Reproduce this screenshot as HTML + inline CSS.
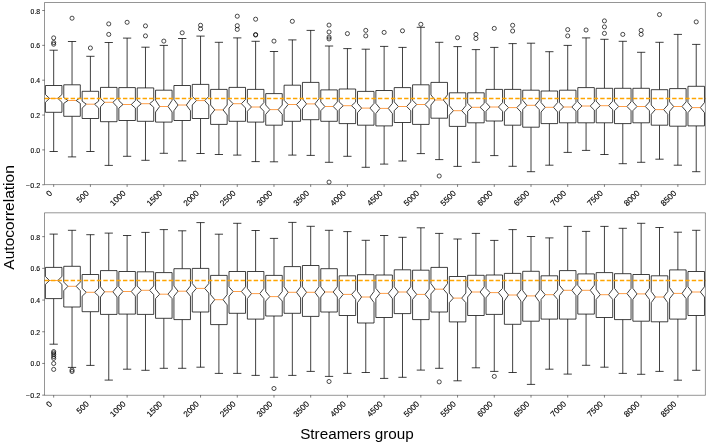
<!DOCTYPE html>
<html><head><meta charset="utf-8"><style>
html,body{margin:0;padding:0;background:#fff;}
body{width:708px;height:444px;overflow:hidden;}
svg{display:block;will-change:transform;}
.tx{will-change:transform;}
.k{fill:none;stroke:#000;stroke-width:0.75;}
.b{fill:#fff;stroke:#000;stroke-width:0.75;stroke-linejoin:miter;}
.m{fill:none;stroke:#ff7f0e;stroke-width:0.75;}
.o{fill:none;stroke:#000;stroke-width:0.7;}
.d{fill:none;stroke:#ffa500;stroke-width:1.4;stroke-dasharray:4.4 2.138;}
.sp{fill:none;stroke:#000;stroke-width:0.42;}
.t{fill:none;stroke:#000;stroke-width:0.5;}
.tl{font-family:"Liberation Sans",sans-serif;font-size:6.7px;fill:#000;stroke:#000;stroke-width:0.1px;}
.xl{font-family:"Liberation Sans",sans-serif;font-size:8.2px;fill:#000;stroke:#000;stroke-width:0.14px;}
.al{font-family:"Liberation Sans",sans-serif;font-size:14px;fill:#000;}
</style></head><body>
<svg width="708" height="444" viewBox="0 0 708 444">
<rect width="708" height="444" fill="#fff"/>
<path d="M53.68 112.3V151.5M53.68 85.5V50.2M49.55 151.5H57.81M49.55 50.2H57.81" class="k"/>
<path d="M45.42 112.3 L61.94 112.3 L61.94 102.3 L57.81 98.4 L61.94 94.5 L61.94 85.5 L45.42 85.5 L45.42 94.5 L49.55 98.4 L45.42 102.3Z" class="b"/>
<path d="M49.55 98.4H57.81" class="m"/>
<path d="M72.04 116.3V156.9M72.04 84.8V41.5M67.91 156.9H76.17M67.91 41.5H76.17" class="k"/>
<path d="M63.78 116.3 L80.3 116.3 L80.3 103.4 L76.17 100.5 L80.3 97.7 L80.3 84.8 L63.78 84.8 L63.78 97.7 L67.91 100.5 L63.78 103.4Z" class="b"/>
<path d="M67.91 100.5H76.17" class="m"/>
<path d="M90.4 118.5V151.5M90.4 91.3V56.3M86.27 151.5H94.53M86.27 56.3H94.53" class="k"/>
<path d="M82.13 118.5 L98.66 118.5 L98.66 108.1 L94.53 104.2 L98.66 101.1 L98.66 91.3 L82.13 91.3 L82.13 101.1 L86.27 104.2 L82.13 108.1Z" class="b"/>
<path d="M86.27 104.2H94.53" class="m"/>
<path d="M108.75 121.7V165.4M108.75 87.4V42.5M104.62 165.4H112.88M104.62 42.5H112.88" class="k"/>
<path d="M100.49 121.7 L117.02 121.7 L117.02 106.8 L112.88 102.3 L117.02 98.4 L117.02 87.4 L100.49 87.4 L100.49 98.4 L104.62 102.3 L100.49 106.8Z" class="b"/>
<path d="M104.62 102.3H112.88" class="m"/>
<path d="M127.11 120.5V156.3M127.11 87.6V38.1M122.98 156.3H131.24M122.98 38.1H131.24" class="k"/>
<path d="M118.85 120.5 L135.37 120.5 L135.37 108.1 L131.24 104.5 L135.37 100.6 L135.37 87.6 L118.85 87.6 L118.85 100.6 L122.98 104.5 L118.85 108.1Z" class="b"/>
<path d="M122.98 104.5H131.24" class="m"/>
<path d="M145.47 121.3V160.3M145.47 87.9V47.2M141.34 160.3H149.6M141.34 47.2H149.6" class="k"/>
<path d="M137.21 121.3 L153.73 121.3 L153.73 107.3 L149.6 103.7 L153.73 100.3 L153.73 87.9 L137.21 87.9 L137.21 100.3 L141.34 103.7 L137.21 107.3Z" class="b"/>
<path d="M141.34 103.7H149.6" class="m"/>
<path d="M163.83 122.1V153.3M163.83 90.2V45.4M159.7 153.3H167.96M159.7 45.4H167.96" class="k"/>
<path d="M155.57 122.1 L172.09 122.1 L172.09 112 L167.96 106.5 L172.09 100.3 L172.09 90.2 L155.57 90.2 L155.57 100.3 L159.7 106.5 L155.57 112Z" class="b"/>
<path d="M159.7 106.5H167.96" class="m"/>
<path d="M182.19 120.5V160.9M182.19 85.5V38.5M178.06 160.9H186.32M178.06 38.5H186.32" class="k"/>
<path d="M173.93 120.5 L190.45 120.5 L190.45 110.7 L186.32 105 L190.45 99.5 L190.45 85.5 L173.93 85.5 L173.93 99.5 L178.06 105 L173.93 110.7Z" class="b"/>
<path d="M178.06 105H186.32" class="m"/>
<path d="M200.55 118.5V153.5M200.55 84.4V36.1M196.42 153.5H204.68M196.42 36.1H204.68" class="k"/>
<path d="M192.28 118.5 L208.81 118.5 L208.81 105 L204.68 100.6 L208.81 96.4 L208.81 84.4 L192.28 84.4 L192.28 96.4 L196.42 100.6 L192.28 105Z" class="b"/>
<path d="M196.42 100.6H204.68" class="m"/>
<path d="M218.9 124.4V154.5M218.9 89.4V42.3M214.77 154.5H223.03M214.77 42.3H223.03" class="k"/>
<path d="M210.64 124.4 L227.17 124.4 L227.17 115 L223.03 109.9 L227.17 105 L227.17 89.4 L210.64 89.4 L210.64 105 L214.77 109.9 L210.64 115Z" class="b"/>
<path d="M214.77 109.9H223.03" class="m"/>
<path d="M237.26 121.3V155.1M237.26 87.4V37.9M233.13 155.1H241.39M233.13 37.9H241.39" class="k"/>
<path d="M229 121.3 L245.52 121.3 L245.52 108 L241.39 103.7 L245.52 99.5 L245.52 87.4 L229 87.4 L229 99.5 L233.13 103.7 L229 108Z" class="b"/>
<path d="M233.13 103.7H241.39" class="m"/>
<path d="M255.62 122.1V161.6M255.62 89.4V41.3M251.49 161.6H259.75M251.49 41.3H259.75" class="k"/>
<path d="M247.36 122.1 L263.88 122.1 L263.88 111.2 L259.75 107 L263.88 102.6 L263.88 89.4 L247.36 89.4 L247.36 102.6 L251.49 107 L247.36 111.2Z" class="b"/>
<path d="M251.49 107H259.75" class="m"/>
<path d="M273.98 125.2V161.8M273.98 93.6V51.5M269.85 161.8H278.11M269.85 51.5H278.11" class="k"/>
<path d="M265.72 125.2 L282.24 125.2 L282.24 114.3 L278.11 109.6 L282.24 105 L282.24 93.6 L265.72 93.6 L265.72 105 L269.85 109.6 L265.72 114.3Z" class="b"/>
<path d="M269.85 109.6H278.11" class="m"/>
<path d="M292.34 121.3V155.1M292.34 85.2V39.9M288.21 155.1H296.47M288.21 39.9H296.47" class="k"/>
<path d="M284.08 121.3 L300.6 121.3 L300.6 109.6 L296.47 104.5 L300.6 100.3 L300.6 85.2 L284.08 85.2 L284.08 100.3 L288.21 104.5 L284.08 109.6Z" class="b"/>
<path d="M288.21 104.5H296.47" class="m"/>
<path d="M310.7 119.7V155.4M310.7 82.4V30.4M306.57 155.4H314.83M306.57 30.4H314.83" class="k"/>
<path d="M302.43 119.7 L318.96 119.7 L318.96 108.8 L314.83 103.9 L318.96 98.7 L318.96 82.4 L302.43 82.4 L302.43 98.7 L306.57 103.9 L302.43 108.8Z" class="b"/>
<path d="M306.57 103.9H314.83" class="m"/>
<path d="M329.05 121.3V162.3M329.05 89.9V46M324.92 162.3H333.18M324.92 46H333.18" class="k"/>
<path d="M320.79 121.3 L337.32 121.3 L337.32 110.7 L333.18 106.5 L337.32 101.9 L337.32 89.9 L320.79 89.9 L320.79 101.9 L324.92 106.5 L320.79 110.7Z" class="b"/>
<path d="M324.92 106.5H333.18" class="m"/>
<path d="M347.41 123.6V156.3M347.41 89V48.6M343.28 156.3H351.54M343.28 48.6H351.54" class="k"/>
<path d="M339.15 123.6 L355.67 123.6 L355.67 109.6 L351.54 105.7 L355.67 101.9 L355.67 89 L339.15 89 L339.15 101.9 L343.28 105.7 L339.15 109.6Z" class="b"/>
<path d="M343.28 105.7H351.54" class="m"/>
<path d="M365.77 125.2V167.3M365.77 91.4V49.2M361.64 167.3H369.9M361.64 49.2H369.9" class="k"/>
<path d="M357.51 125.2 L374.03 125.2 L374.03 112.7 L369.9 108.1 L374.03 103.4 L374.03 91.4 L357.51 91.4 L357.51 103.4 L361.64 108.1 L357.51 112.7Z" class="b"/>
<path d="M361.64 108.1H369.9" class="m"/>
<path d="M384.13 125.9V164.1M384.13 90.5V46.4M380 164.1H388.26M380 46.4H388.26" class="k"/>
<path d="M375.87 125.9 L392.39 125.9 L392.39 113.5 L388.26 108.4 L392.39 103.4 L392.39 90.5 L375.87 90.5 L375.87 103.4 L380 108.4 L375.87 113.5Z" class="b"/>
<path d="M380 108.4H388.26" class="m"/>
<path d="M402.49 122.5V161M402.49 87.6V47.4M398.36 161H406.62M398.36 47.4H406.62" class="k"/>
<path d="M394.23 122.5 L410.75 122.5 L410.75 110.7 L406.62 106.5 L410.75 101.9 L410.75 87.6 L394.23 87.6 L394.23 101.9 L398.36 106.5 L394.23 110.7Z" class="b"/>
<path d="M398.36 106.5H406.62" class="m"/>
<path d="M420.85 124.4V153.6M420.85 84.8V27.3M416.72 153.6H424.98M416.72 27.3H424.98" class="k"/>
<path d="M412.58 124.4 L429.11 124.4 L429.11 108.8 L424.98 104.5 L429.11 100.3 L429.11 84.8 L412.58 84.8 L412.58 100.3 L416.72 104.5 L412.58 108.8Z" class="b"/>
<path d="M416.72 104.5H424.98" class="m"/>
<path d="M439.2 118.2V159.6M439.2 82.4V42.3M435.07 159.6H443.33M435.07 42.3H443.33" class="k"/>
<path d="M430.94 118.2 L447.47 118.2 L447.47 105 L443.33 100 L447.47 94.9 L447.47 82.4 L430.94 82.4 L430.94 94.9 L435.07 100 L430.94 105Z" class="b"/>
<path d="M435.07 100H443.33" class="m"/>
<path d="M457.56 126.4V166.4M457.56 92.8V46.6M453.43 166.4H461.69M453.43 46.6H461.69" class="k"/>
<path d="M449.3 126.4 L465.82 126.4 L465.82 115.1 L461.69 110.7 L465.82 105.7 L465.82 92.8 L449.3 92.8 L449.3 105.7 L453.43 110.7 L449.3 115.1Z" class="b"/>
<path d="M453.43 110.7H461.69" class="m"/>
<path d="M475.92 122.8V162.3M475.92 92.8V49.6M471.79 162.3H480.05M471.79 49.6H480.05" class="k"/>
<path d="M467.66 122.8 L484.18 122.8 L484.18 111.2 L480.05 107.3 L484.18 103.4 L484.18 92.8 L467.66 92.8 L467.66 103.4 L471.79 107.3 L467.66 111.2Z" class="b"/>
<path d="M471.79 107.3H480.05" class="m"/>
<path d="M494.28 121V155.6M494.28 89.4V47.4M490.15 155.6H498.41M490.15 47.4H498.41" class="k"/>
<path d="M486.02 121 L502.54 121 L502.54 111.2 L498.41 107 L502.54 102.6 L502.54 89.4 L486.02 89.4 L486.02 102.6 L490.15 107 L486.02 111.2Z" class="b"/>
<path d="M490.15 107H498.41" class="m"/>
<path d="M512.64 125.2V166.3M512.64 89.4V43.6M508.51 166.3H516.77M508.51 43.6H516.77" class="k"/>
<path d="M504.38 125.2 L520.9 125.2 L520.9 112 L516.77 107.6 L520.9 103.4 L520.9 89.4 L504.38 89.4 L504.38 103.4 L508.51 107.6 L504.38 112Z" class="b"/>
<path d="M508.51 107.6H516.77" class="m"/>
<path d="M531 127.2V171.7M531 90.2V43.2M526.87 171.7H535.13M526.87 43.2H535.13" class="k"/>
<path d="M522.73 127.2 L539.26 127.2 L539.26 109.6 L535.13 105.3 L539.26 100.3 L539.26 90.2 L522.73 90.2 L522.73 100.3 L526.87 105.3 L522.73 109.6Z" class="b"/>
<path d="M526.87 105.3H535.13" class="m"/>
<path d="M549.35 123.6V165.2M549.35 91V51.7M545.22 165.2H553.48M545.22 51.7H553.48" class="k"/>
<path d="M541.09 123.6 L557.62 123.6 L557.62 112 L553.48 107.3 L557.62 102.6 L557.62 91 L541.09 91 L541.09 102.6 L545.22 107.3 L541.09 112Z" class="b"/>
<path d="M545.22 107.3H553.48" class="m"/>
<path d="M567.71 122.8V152.4M567.71 90.2V45.4M563.58 152.4H571.84M563.58 45.4H571.84" class="k"/>
<path d="M559.45 122.8 L575.97 122.8 L575.97 111.2 L571.84 107 L575.97 102.6 L575.97 90.2 L559.45 90.2 L559.45 102.6 L563.58 107 L559.45 111.2Z" class="b"/>
<path d="M563.58 107H571.84" class="m"/>
<path d="M586.07 122.8V150.4M586.07 87.6V37.9M581.94 150.4H590.2M581.94 37.9H590.2" class="k"/>
<path d="M577.81 122.8 L594.33 122.8 L594.33 110.1 L590.2 106 L594.33 101.9 L594.33 87.6 L577.81 87.6 L577.81 101.9 L581.94 106 L577.81 110.1Z" class="b"/>
<path d="M581.94 106H590.2" class="m"/>
<path d="M604.43 122.8V154.5M604.43 88.3V39.3M600.3 154.5H608.56M600.3 39.3H608.56" class="k"/>
<path d="M596.17 122.8 L612.69 122.8 L612.69 109.6 L608.56 105.7 L612.69 101.1 L612.69 88.3 L596.17 88.3 L596.17 101.1 L600.3 105.7 L596.17 109.6Z" class="b"/>
<path d="M600.3 105.7H608.56" class="m"/>
<path d="M622.79 123.6V163.7M622.79 88.3V41.3M618.66 163.7H626.92M618.66 41.3H626.92" class="k"/>
<path d="M614.53 123.6 L631.05 123.6 L631.05 110.7 L626.92 106.5 L631.05 101.9 L631.05 88.3 L614.53 88.3 L614.53 101.9 L618.66 106.5 L614.53 110.7Z" class="b"/>
<path d="M618.66 106.5H626.92" class="m"/>
<path d="M641.15 122.8V162.3M641.15 88.3V52.3M637.02 162.3H645.28M637.02 52.3H645.28" class="k"/>
<path d="M632.88 122.8 L649.41 122.8 L649.41 110.7 L645.28 106.5 L649.41 101.9 L649.41 88.3 L632.88 88.3 L632.88 101.9 L637.02 106.5 L632.88 110.7Z" class="b"/>
<path d="M637.02 106.5H645.28" class="m"/>
<path d="M659.5 125.2V159.2M659.5 89.7V42.3M655.37 159.2H663.63M655.37 42.3H663.63" class="k"/>
<path d="M651.24 125.2 L667.77 125.2 L667.77 114.3 L663.63 109.6 L667.77 105 L667.77 89.7 L651.24 89.7 L651.24 105 L655.37 109.6 L651.24 114.3Z" class="b"/>
<path d="M655.37 109.6H663.63" class="m"/>
<path d="M677.86 126.2V165.2M677.86 88.6V34.4M673.73 165.2H681.99M673.73 34.4H681.99" class="k"/>
<path d="M669.6 126.2 L686.12 126.2 L686.12 111.2 L681.99 106.5 L686.12 101.9 L686.12 88.6 L669.6 88.6 L669.6 101.9 L673.73 106.5 L669.6 111.2Z" class="b"/>
<path d="M673.73 106.5H681.99" class="m"/>
<path d="M696.22 125.9V171.7M696.22 86.3V44.4M692.09 171.7H700.35M692.09 44.4H700.35" class="k"/>
<path d="M687.96 125.9 L704.48 125.9 L704.48 112.7 L700.35 107.6 L704.48 102.6 L704.48 86.3 L687.96 86.3 L687.96 102.6 L692.09 107.6 L687.96 112.7Z" class="b"/>
<path d="M692.09 107.6H700.35" class="m"/>
<circle cx="53.68" cy="37.9" r="2.05" class="o"/>
<circle cx="53.68" cy="42.6" r="2.05" class="o"/>
<circle cx="53.68" cy="44.2" r="2.05" class="o"/>
<circle cx="72.04" cy="18.2" r="2.05" class="o"/>
<circle cx="90.4" cy="48" r="2.05" class="o"/>
<circle cx="108.75" cy="23.9" r="2.05" class="o"/>
<circle cx="108.75" cy="34.4" r="2.05" class="o"/>
<circle cx="127.11" cy="22.3" r="2.05" class="o"/>
<circle cx="145.47" cy="25.9" r="2.05" class="o"/>
<circle cx="145.47" cy="35.9" r="2.05" class="o"/>
<circle cx="163.83" cy="41.1" r="2.05" class="o"/>
<circle cx="182.19" cy="32.8" r="2.05" class="o"/>
<circle cx="200.55" cy="25.3" r="2.05" class="o"/>
<circle cx="200.55" cy="28.8" r="2.05" class="o"/>
<circle cx="237.26" cy="16.2" r="2.05" class="o"/>
<circle cx="237.26" cy="25.7" r="2.05" class="o"/>
<circle cx="237.26" cy="29.4" r="2.05" class="o"/>
<circle cx="255.62" cy="19.2" r="2.05" class="o"/>
<circle cx="255.62" cy="34.6" r="2.05" class="o"/>
<circle cx="255.62" cy="35" r="2.05" class="o"/>
<circle cx="273.98" cy="41.1" r="2.05" class="o"/>
<circle cx="292.34" cy="21.3" r="2.05" class="o"/>
<circle cx="329.05" cy="25.1" r="2.05" class="o"/>
<circle cx="329.05" cy="32" r="2.05" class="o"/>
<circle cx="329.05" cy="37.1" r="2.05" class="o"/>
<circle cx="329.05" cy="38.9" r="2.05" class="o"/>
<circle cx="347.41" cy="33.6" r="2.05" class="o"/>
<circle cx="365.77" cy="30.4" r="2.05" class="o"/>
<circle cx="365.77" cy="35.9" r="2.05" class="o"/>
<circle cx="384.13" cy="32.4" r="2.05" class="o"/>
<circle cx="402.49" cy="30.8" r="2.05" class="o"/>
<circle cx="420.85" cy="24.3" r="2.05" class="o"/>
<circle cx="457.56" cy="37.7" r="2.05" class="o"/>
<circle cx="475.92" cy="34.4" r="2.05" class="o"/>
<circle cx="475.92" cy="38.5" r="2.05" class="o"/>
<circle cx="494.28" cy="28.4" r="2.05" class="o"/>
<circle cx="512.64" cy="25.3" r="2.05" class="o"/>
<circle cx="512.64" cy="31" r="2.05" class="o"/>
<circle cx="567.71" cy="29.6" r="2.05" class="o"/>
<circle cx="567.71" cy="35.9" r="2.05" class="o"/>
<circle cx="586.07" cy="30" r="2.05" class="o"/>
<circle cx="604.43" cy="20.9" r="2.05" class="o"/>
<circle cx="604.43" cy="26.9" r="2.05" class="o"/>
<circle cx="604.43" cy="33.4" r="2.05" class="o"/>
<circle cx="622.79" cy="34.4" r="2.05" class="o"/>
<circle cx="641.15" cy="30.4" r="2.05" class="o"/>
<circle cx="641.15" cy="34.4" r="2.05" class="o"/>
<circle cx="659.5" cy="14.6" r="2.05" class="o"/>
<circle cx="696.22" cy="21.9" r="2.05" class="o"/>
<circle cx="329.05" cy="182.1" r="2.05" class="o"/>
<circle cx="439.2" cy="176" r="2.05" class="o"/>
<path d="M44.5 98.5H705.4" class="d"/>
<path d="M44.5 2.5H705.4V184.6H44.5Z" class="sp"/>
<path d="M42.2 184.75H44.5" class="t"/>
<text x="40.1" y="187.75" text-anchor="end" textLength="14.1" lengthAdjust="spacingAndGlyphs" class="tl">−0.2</text>
<path d="M42.2 149.9H44.5" class="t"/>
<text x="40.1" y="152.9" text-anchor="end" textLength="9.5" lengthAdjust="spacingAndGlyphs" class="tl">0.0</text>
<path d="M42.2 115.05H44.5" class="t"/>
<text x="40.1" y="118.05" text-anchor="end" textLength="9.5" lengthAdjust="spacingAndGlyphs" class="tl">0.2</text>
<path d="M42.2 80.2H44.5" class="t"/>
<text x="40.1" y="83.2" text-anchor="end" textLength="9.5" lengthAdjust="spacingAndGlyphs" class="tl">0.4</text>
<path d="M42.2 45.35H44.5" class="t"/>
<text x="40.1" y="48.35" text-anchor="end" textLength="9.5" lengthAdjust="spacingAndGlyphs" class="tl">0.6</text>
<path d="M42.2 10.5H44.5" class="t"/>
<text x="40.1" y="13.5" text-anchor="end" textLength="9.5" lengthAdjust="spacingAndGlyphs" class="tl">0.8</text>
<path d="M53.68 184.6V186.9" class="t"/>
<text x="52.68" y="193.7" text-anchor="end" transform="rotate(-45 52.68 193.7)" class="xl">0</text>
<path d="M90.4 184.6V186.9" class="t"/>
<text x="89.4" y="193.7" text-anchor="end" transform="rotate(-45 89.4 193.7)" class="xl">500</text>
<path d="M127.11 184.6V186.9" class="t"/>
<text x="126.11" y="193.7" text-anchor="end" transform="rotate(-45 126.11 193.7)" class="xl">1000</text>
<path d="M163.83 184.6V186.9" class="t"/>
<text x="162.83" y="193.7" text-anchor="end" transform="rotate(-45 162.83 193.7)" class="xl">1500</text>
<path d="M200.55 184.6V186.9" class="t"/>
<text x="199.55" y="193.7" text-anchor="end" transform="rotate(-45 199.55 193.7)" class="xl">2000</text>
<path d="M237.26 184.6V186.9" class="t"/>
<text x="236.26" y="193.7" text-anchor="end" transform="rotate(-45 236.26 193.7)" class="xl">2500</text>
<path d="M273.98 184.6V186.9" class="t"/>
<text x="272.98" y="193.7" text-anchor="end" transform="rotate(-45 272.98 193.7)" class="xl">3000</text>
<path d="M310.7 184.6V186.9" class="t"/>
<text x="309.7" y="193.7" text-anchor="end" transform="rotate(-45 309.7 193.7)" class="xl">3500</text>
<path d="M347.41 184.6V186.9" class="t"/>
<text x="346.41" y="193.7" text-anchor="end" transform="rotate(-45 346.41 193.7)" class="xl">4000</text>
<path d="M384.13 184.6V186.9" class="t"/>
<text x="383.13" y="193.7" text-anchor="end" transform="rotate(-45 383.13 193.7)" class="xl">4500</text>
<path d="M420.85 184.6V186.9" class="t"/>
<text x="419.85" y="193.7" text-anchor="end" transform="rotate(-45 419.85 193.7)" class="xl">5000</text>
<path d="M457.56 184.6V186.9" class="t"/>
<text x="456.56" y="193.7" text-anchor="end" transform="rotate(-45 456.56 193.7)" class="xl">5500</text>
<path d="M494.28 184.6V186.9" class="t"/>
<text x="493.28" y="193.7" text-anchor="end" transform="rotate(-45 493.28 193.7)" class="xl">6000</text>
<path d="M531 184.6V186.9" class="t"/>
<text x="530" y="193.7" text-anchor="end" transform="rotate(-45 530 193.7)" class="xl">6500</text>
<path d="M567.71 184.6V186.9" class="t"/>
<text x="566.71" y="193.7" text-anchor="end" transform="rotate(-45 566.71 193.7)" class="xl">7000</text>
<path d="M604.43 184.6V186.9" class="t"/>
<text x="603.43" y="193.7" text-anchor="end" transform="rotate(-45 603.43 193.7)" class="xl">7500</text>
<path d="M641.15 184.6V186.9" class="t"/>
<text x="640.15" y="193.7" text-anchor="end" transform="rotate(-45 640.15 193.7)" class="xl">8000</text>
<path d="M677.86 184.6V186.9" class="t"/>
<text x="676.86" y="193.7" text-anchor="end" transform="rotate(-45 676.86 193.7)" class="xl">8500</text>
<path d="M53.68 298.6V344.2M53.68 267.4V234.1M49.55 344.2H57.81M49.55 234.1H57.81" class="k"/>
<path d="M45.42 298.6 L61.94 298.6 L61.94 284.4 L57.81 280.5 L61.94 276.5 L61.94 267.4 L45.42 267.4 L45.42 276.5 L49.55 280.5 L45.42 284.4Z" class="b"/>
<path d="M49.55 280.5H57.81" class="m"/>
<path d="M72.04 307V367.4M72.04 266.3V230.3M67.91 367.4H76.17M67.91 230.3H76.17" class="k"/>
<path d="M63.78 307 L80.3 307 L80.3 290.7 L76.17 286.3 L80.3 282.1 L80.3 266.3 L63.78 266.3 L63.78 282.1 L67.91 286.3 L63.78 290.7Z" class="b"/>
<path d="M67.91 286.3H76.17" class="m"/>
<path d="M90.4 311.7V365.4M90.4 274.5V234.7M86.27 365.4H94.53M86.27 234.7H94.53" class="k"/>
<path d="M82.13 311.7 L98.66 311.7 L98.66 296.2 L94.53 292.3 L98.66 288.4 L98.66 274.5 L82.13 274.5 L82.13 288.4 L86.27 292.3 L82.13 296.2Z" class="b"/>
<path d="M86.27 292.3H94.53" class="m"/>
<path d="M108.75 314.4V380.1M108.75 270.6V233.1M104.62 380.1H112.88M104.62 233.1H112.88" class="k"/>
<path d="M100.49 314.4 L117.02 314.4 L117.02 297 L112.88 291.8 L117.02 286.8 L117.02 270.6 L100.49 270.6 L100.49 286.8 L104.62 291.8 L100.49 297Z" class="b"/>
<path d="M104.62 291.8H112.88" class="m"/>
<path d="M127.11 314.1V369.2M127.11 271.5V235.5M122.98 369.2H131.24M122.98 235.5H131.24" class="k"/>
<path d="M118.85 314.1 L135.37 314.1 L135.37 296.2 L131.24 291.5 L135.37 286.8 L135.37 271.5 L118.85 271.5 L118.85 286.8 L122.98 291.5 L118.85 296.2Z" class="b"/>
<path d="M122.98 291.5H131.24" class="m"/>
<path d="M145.47 314.4V370.3M145.47 271.8V232.4M141.34 370.3H149.6M141.34 232.4H149.6" class="k"/>
<path d="M137.21 314.4 L153.73 314.4 L153.73 294.7 L149.6 290.3 L153.73 286 L153.73 271.8 L137.21 271.8 L137.21 286 L141.34 290.3 L137.21 294.7Z" class="b"/>
<path d="M141.34 290.3H149.6" class="m"/>
<path d="M163.83 318.3V368.3M163.83 272.6V229.6M159.7 368.3H167.96M159.7 229.6H167.96" class="k"/>
<path d="M155.57 318.3 L172.09 318.3 L172.09 298.6 L167.96 294.2 L172.09 289.2 L172.09 272.6 L155.57 272.6 L155.57 289.2 L159.7 294.2 L155.57 298.6Z" class="b"/>
<path d="M159.7 294.2H167.96" class="m"/>
<path d="M182.19 319.6V368.3M182.19 268.7V230.8M178.06 368.3H186.32M178.06 230.8H186.32" class="k"/>
<path d="M173.93 319.6 L190.45 319.6 L190.45 296.2 L186.32 291.2 L190.45 286 L190.45 268.7 L173.93 268.7 L173.93 286 L178.06 291.2 L173.93 296.2Z" class="b"/>
<path d="M178.06 291.2H186.32" class="m"/>
<path d="M200.55 312V367.2M200.55 268.4V222.6M196.42 367.2H204.68M196.42 222.6H204.68" class="k"/>
<path d="M192.28 312 L208.81 312 L208.81 293.1 L204.68 288.4 L208.81 283.6 L208.81 268.4 L192.28 268.4 L192.28 283.6 L196.42 288.4 L192.28 293.1Z" class="b"/>
<path d="M196.42 288.4H204.68" class="m"/>
<path d="M218.9 324.6V373.4M218.9 275.4V234.2M214.77 373.4H223.03M214.77 234.2H223.03" class="k"/>
<path d="M210.64 324.6 L227.17 324.6 L227.17 304.9 L223.03 299.7 L227.17 294.7 L227.17 275.4 L210.64 275.4 L210.64 294.7 L214.77 299.7 L210.64 304.9Z" class="b"/>
<path d="M214.77 299.7H223.03" class="m"/>
<path d="M237.26 313.3V373.4M237.26 271.5V223.3M233.13 373.4H241.39M233.13 223.3H241.39" class="k"/>
<path d="M229 313.3 L245.52 313.3 L245.52 296.2 L241.39 291.5 L245.52 286.8 L245.52 271.5 L229 271.5 L229 286.8 L233.13 291.5 L229 296.2Z" class="b"/>
<path d="M233.13 291.5H241.39" class="m"/>
<path d="M255.62 319.1V375.4M255.62 271.5V230.5M251.49 375.4H259.75M251.49 230.5H259.75" class="k"/>
<path d="M247.36 319.1 L263.88 319.1 L263.88 298.6 L259.75 293.6 L263.88 288.4 L263.88 271.5 L247.36 271.5 L247.36 288.4 L251.49 293.6 L247.36 298.6Z" class="b"/>
<path d="M251.49 293.6H259.75" class="m"/>
<path d="M273.98 316V377.3M273.98 275.4V238.4M269.85 377.3H278.11M269.85 238.4H278.11" class="k"/>
<path d="M265.72 316 L282.24 316 L282.24 301 L278.11 296.6 L282.24 291.5 L282.24 275.4 L265.72 275.4 L265.72 291.5 L269.85 296.6 L265.72 301Z" class="b"/>
<path d="M269.85 296.6H278.11" class="m"/>
<path d="M292.34 313.3V375.4M292.34 266.6V222.4M288.21 375.4H296.47M288.21 222.4H296.47" class="k"/>
<path d="M284.08 313.3 L300.6 313.3 L300.6 297.8 L296.47 292.3 L300.6 286.8 L300.6 266.6 L284.08 266.6 L284.08 286.8 L288.21 292.3 L284.08 297.8Z" class="b"/>
<path d="M288.21 292.3H296.47" class="m"/>
<path d="M310.7 316.4V371.4M310.7 265.5V226.3M306.57 371.4H314.83M306.57 226.3H314.83" class="k"/>
<path d="M302.43 316.4 L318.96 316.4 L318.96 297.8 L314.83 292.3 L318.96 286.8 L318.96 265.5 L302.43 265.5 L302.43 286.8 L306.57 292.3 L302.43 297.8Z" class="b"/>
<path d="M306.57 292.3H314.83" class="m"/>
<path d="M329.05 312V376.4M329.05 268.7V230.3M324.92 376.4H333.18M324.92 230.3H333.18" class="k"/>
<path d="M320.79 312 L337.32 312 L337.32 297 L333.18 292 L337.32 286.8 L337.32 268.7 L320.79 268.7 L320.79 286.8 L324.92 292 L320.79 297Z" class="b"/>
<path d="M324.92 292H333.18" class="m"/>
<path d="M347.41 315.5V373.4M347.41 275.8V231.6M343.28 373.4H351.54M343.28 231.6H351.54" class="k"/>
<path d="M339.15 315.5 L355.67 315.5 L355.67 299.4 L351.54 294.4 L355.67 289.9 L355.67 275.8 L339.15 275.8 L339.15 289.9 L343.28 294.4 L339.15 299.4Z" class="b"/>
<path d="M343.28 294.4H351.54" class="m"/>
<path d="M365.77 323V372.5M365.77 274.7V240.3M361.64 372.5H369.9M361.64 240.3H369.9" class="k"/>
<path d="M357.51 323 L374.03 323 L374.03 302.6 L369.9 297 L374.03 291.5 L374.03 274.7 L357.51 274.7 L357.51 291.5 L361.64 297 L357.51 302.6Z" class="b"/>
<path d="M361.64 297H369.9" class="m"/>
<path d="M384.13 317.5V378.4M384.13 275V235.5M380 378.4H388.26M380 235.5H388.26" class="k"/>
<path d="M375.87 317.5 L392.39 317.5 L392.39 298.6 L388.26 293.4 L392.39 288.4 L392.39 275 L375.87 275 L375.87 288.4 L380 293.4 L375.87 298.6Z" class="b"/>
<path d="M380 293.4H388.26" class="m"/>
<path d="M402.49 313.6V377.3M402.49 269.8V237.3M398.36 377.3H406.62M398.36 237.3H406.62" class="k"/>
<path d="M394.23 313.6 L410.75 313.6 L410.75 297 L406.62 292 L410.75 286.8 L410.75 269.8 L394.23 269.8 L394.23 286.8 L398.36 292 L394.23 297Z" class="b"/>
<path d="M398.36 292H406.62" class="m"/>
<path d="M420.85 319.6V370.1M420.85 270.2V227.8M416.72 370.1H424.98M416.72 227.8H424.98" class="k"/>
<path d="M412.58 319.6 L429.11 319.6 L429.11 299.4 L424.98 294.4 L429.11 289.2 L429.11 270.2 L412.58 270.2 L412.58 289.2 L416.72 294.4 L412.58 299.4Z" class="b"/>
<path d="M416.72 294.4H424.98" class="m"/>
<path d="M439.2 312V368.3M439.2 267.4V233.4M435.07 368.3H443.33M435.07 233.4H443.33" class="k"/>
<path d="M430.94 312 L447.47 312 L447.47 293.9 L443.33 289.2 L447.47 283.6 L447.47 267.4 L430.94 267.4 L430.94 283.6 L435.07 289.2 L430.94 293.9Z" class="b"/>
<path d="M435.07 289.2H443.33" class="m"/>
<path d="M457.56 321.9V380.8M457.56 276.5V239M453.43 380.8H461.69M453.43 239H461.69" class="k"/>
<path d="M449.3 321.9 L465.82 321.9 L465.82 302.6 L461.69 298.1 L465.82 293.1 L465.82 276.5 L449.3 276.5 L449.3 293.1 L453.43 298.1 L449.3 302.6Z" class="b"/>
<path d="M453.43 298.1H461.69" class="m"/>
<path d="M475.92 315.5V367.8M475.92 275.3V233.4M471.79 367.8H480.05M471.79 233.4H480.05" class="k"/>
<path d="M467.66 315.5 L484.18 315.5 L484.18 297 L480.05 292 L484.18 286.8 L484.18 275.3 L467.66 275.3 L467.66 286.8 L471.79 292 L467.66 297Z" class="b"/>
<path d="M471.79 292H480.05" class="m"/>
<path d="M494.28 314.4V371.4M494.28 275V240.4M490.15 371.4H498.41M490.15 240.4H498.41" class="k"/>
<path d="M486.02 314.4 L502.54 314.4 L502.54 297.8 L498.41 292.6 L502.54 288.4 L502.54 275 L486.02 275 L486.02 288.4 L490.15 292.6 L486.02 297.8Z" class="b"/>
<path d="M490.15 292.6H498.41" class="m"/>
<path d="M512.64 324.3V372.5M512.64 273.4V229.6M508.51 372.5H516.77M508.51 229.6H516.77" class="k"/>
<path d="M504.38 324.3 L520.9 324.3 L520.9 301 L516.77 295 L520.9 289.9 L520.9 273.4 L504.38 273.4 L504.38 289.9 L508.51 295 L504.38 301Z" class="b"/>
<path d="M508.51 295H516.77" class="m"/>
<path d="M531 321.2V384.4M531 271.3V236.5M526.87 384.4H535.13M526.87 236.5H535.13" class="k"/>
<path d="M522.73 321.2 L539.26 321.2 L539.26 301.8 L535.13 295.9 L539.26 290.7 L539.26 271.3 L522.73 271.3 L522.73 290.7 L526.87 295.9 L522.73 301.8Z" class="b"/>
<path d="M526.87 295.9H535.13" class="m"/>
<path d="M549.35 319.1V369.2M549.35 275.8V237.9M545.22 369.2H553.48M545.22 237.9H553.48" class="k"/>
<path d="M541.09 319.1 L557.62 319.1 L557.62 299.4 L553.48 294.7 L557.62 289.9 L557.62 275.8 L541.09 275.8 L541.09 289.9 L545.22 294.7 L541.09 299.4Z" class="b"/>
<path d="M545.22 294.7H553.48" class="m"/>
<path d="M567.71 319.1V374.1M567.71 270.6V226.4M563.58 374.1H571.84M563.58 226.4H571.84" class="k"/>
<path d="M559.45 319.1 L575.97 319.1 L575.97 295.5 L571.84 290.3 L575.97 285.2 L575.97 270.6 L559.45 270.6 L559.45 285.2 L563.58 290.3 L559.45 295.5Z" class="b"/>
<path d="M563.58 290.3H571.84" class="m"/>
<path d="M586.07 314.1V365.3M586.07 273.9V231.4M581.94 365.3H590.2M581.94 231.4H590.2" class="k"/>
<path d="M577.81 314.1 L594.33 314.1 L594.33 295.5 L590.2 290.3 L594.33 285.2 L594.33 273.9 L577.81 273.9 L577.81 285.2 L581.94 290.3 L577.81 295.5Z" class="b"/>
<path d="M581.94 290.3H590.2" class="m"/>
<path d="M604.43 317.5V367.2M604.43 272.6V226.4M600.3 367.2H608.56M600.3 226.4H608.56" class="k"/>
<path d="M596.17 317.5 L612.69 317.5 L612.69 299.4 L608.56 294.7 L612.69 289.2 L612.69 272.6 L596.17 272.6 L596.17 289.2 L600.3 294.7 L596.17 299.4Z" class="b"/>
<path d="M600.3 294.7H608.56" class="m"/>
<path d="M622.79 319.6V373.4M622.79 273.7V228.3M618.66 373.4H626.92M618.66 228.3H626.92" class="k"/>
<path d="M614.53 319.6 L631.05 319.6 L631.05 298.6 L626.92 293.6 L631.05 288.4 L631.05 273.7 L614.53 273.7 L614.53 288.4 L618.66 293.6 L614.53 298.6Z" class="b"/>
<path d="M618.66 293.6H626.92" class="m"/>
<path d="M641.15 321.2V374.3M641.15 274.5V223.3M637.02 374.3H645.28M637.02 223.3H645.28" class="k"/>
<path d="M632.88 321.2 L649.41 321.2 L649.41 299.4 L645.28 293.9 L649.41 288.4 L649.41 274.5 L632.88 274.5 L632.88 288.4 L637.02 293.9 L632.88 299.4Z" class="b"/>
<path d="M637.02 293.9H645.28" class="m"/>
<path d="M659.5 321.8V371.4M659.5 275.8V227.5M655.37 371.4H663.63M655.37 227.5H663.63" class="k"/>
<path d="M651.24 321.8 L667.77 321.8 L667.77 302.6 L663.63 297 L667.77 291.5 L667.77 275.8 L651.24 275.8 L651.24 291.5 L655.37 297 L651.24 302.6Z" class="b"/>
<path d="M655.37 297H663.63" class="m"/>
<path d="M677.86 319.1V380.2M677.86 269.9V232.2M673.73 380.2H681.99M673.73 232.2H681.99" class="k"/>
<path d="M669.6 319.1 L686.12 319.1 L686.12 298.6 L681.99 293.4 L686.12 287.6 L686.12 269.9 L669.6 269.9 L669.6 287.6 L673.73 293.4 L669.6 298.6Z" class="b"/>
<path d="M673.73 293.4H681.99" class="m"/>
<path d="M696.22 315.5V370.3M696.22 271.5V230.3M692.09 370.3H700.35M692.09 230.3H700.35" class="k"/>
<path d="M687.96 315.5 L704.48 315.5 L704.48 297 L700.35 292 L704.48 286.8 L704.48 271.5 L687.96 271.5 L687.96 286.8 L692.09 292 L687.96 297Z" class="b"/>
<path d="M692.09 292H700.35" class="m"/>
<circle cx="53.68" cy="351.6" r="2.05" class="o"/>
<circle cx="53.68" cy="353" r="2.05" class="o"/>
<circle cx="53.68" cy="354.6" r="2.05" class="o"/>
<circle cx="53.68" cy="356.6" r="2.05" class="o"/>
<circle cx="53.68" cy="358.4" r="2.05" class="o"/>
<circle cx="53.68" cy="363.5" r="2.05" class="o"/>
<circle cx="53.68" cy="369.4" r="2.05" class="o"/>
<circle cx="72.04" cy="370" r="2.05" class="o"/>
<circle cx="72.04" cy="371.5" r="2.05" class="o"/>
<circle cx="273.98" cy="388.5" r="2.05" class="o"/>
<circle cx="329.05" cy="381.5" r="2.05" class="o"/>
<circle cx="439.2" cy="381.9" r="2.05" class="o"/>
<circle cx="494.28" cy="376.4" r="2.05" class="o"/>
<path d="M44.5 280.5H705.4" class="d"/>
<path d="M44.5 212.8H705.4V395.3H44.5Z" class="sp"/>
<path d="M42.2 395.15H44.5" class="t"/>
<text x="40.1" y="398.15" text-anchor="end" textLength="14.1" lengthAdjust="spacingAndGlyphs" class="tl">−0.2</text>
<path d="M42.2 363.45H44.5" class="t"/>
<text x="40.1" y="366.45" text-anchor="end" textLength="9.5" lengthAdjust="spacingAndGlyphs" class="tl">0.0</text>
<path d="M42.2 331.75H44.5" class="t"/>
<text x="40.1" y="334.75" text-anchor="end" textLength="9.5" lengthAdjust="spacingAndGlyphs" class="tl">0.2</text>
<path d="M42.2 300.05H44.5" class="t"/>
<text x="40.1" y="303.05" text-anchor="end" textLength="9.5" lengthAdjust="spacingAndGlyphs" class="tl">0.4</text>
<path d="M42.2 268.35H44.5" class="t"/>
<text x="40.1" y="271.35" text-anchor="end" textLength="9.5" lengthAdjust="spacingAndGlyphs" class="tl">0.6</text>
<path d="M42.2 236.65H44.5" class="t"/>
<text x="40.1" y="239.65" text-anchor="end" textLength="9.5" lengthAdjust="spacingAndGlyphs" class="tl">0.8</text>
<path d="M53.68 395.3V397.6" class="t"/>
<text x="52.68" y="404.5" text-anchor="end" transform="rotate(-45 52.68 404.5)" class="xl">0</text>
<path d="M90.4 395.3V397.6" class="t"/>
<text x="89.4" y="404.5" text-anchor="end" transform="rotate(-45 89.4 404.5)" class="xl">500</text>
<path d="M127.11 395.3V397.6" class="t"/>
<text x="126.11" y="404.5" text-anchor="end" transform="rotate(-45 126.11 404.5)" class="xl">1000</text>
<path d="M163.83 395.3V397.6" class="t"/>
<text x="162.83" y="404.5" text-anchor="end" transform="rotate(-45 162.83 404.5)" class="xl">1500</text>
<path d="M200.55 395.3V397.6" class="t"/>
<text x="199.55" y="404.5" text-anchor="end" transform="rotate(-45 199.55 404.5)" class="xl">2000</text>
<path d="M237.26 395.3V397.6" class="t"/>
<text x="236.26" y="404.5" text-anchor="end" transform="rotate(-45 236.26 404.5)" class="xl">2500</text>
<path d="M273.98 395.3V397.6" class="t"/>
<text x="272.98" y="404.5" text-anchor="end" transform="rotate(-45 272.98 404.5)" class="xl">3000</text>
<path d="M310.7 395.3V397.6" class="t"/>
<text x="309.7" y="404.5" text-anchor="end" transform="rotate(-45 309.7 404.5)" class="xl">3500</text>
<path d="M347.41 395.3V397.6" class="t"/>
<text x="346.41" y="404.5" text-anchor="end" transform="rotate(-45 346.41 404.5)" class="xl">4000</text>
<path d="M384.13 395.3V397.6" class="t"/>
<text x="383.13" y="404.5" text-anchor="end" transform="rotate(-45 383.13 404.5)" class="xl">4500</text>
<path d="M420.85 395.3V397.6" class="t"/>
<text x="419.85" y="404.5" text-anchor="end" transform="rotate(-45 419.85 404.5)" class="xl">5000</text>
<path d="M457.56 395.3V397.6" class="t"/>
<text x="456.56" y="404.5" text-anchor="end" transform="rotate(-45 456.56 404.5)" class="xl">5500</text>
<path d="M494.28 395.3V397.6" class="t"/>
<text x="493.28" y="404.5" text-anchor="end" transform="rotate(-45 493.28 404.5)" class="xl">6000</text>
<path d="M531 395.3V397.6" class="t"/>
<text x="530" y="404.5" text-anchor="end" transform="rotate(-45 530 404.5)" class="xl">6500</text>
<path d="M567.71 395.3V397.6" class="t"/>
<text x="566.71" y="404.5" text-anchor="end" transform="rotate(-45 566.71 404.5)" class="xl">7000</text>
<path d="M604.43 395.3V397.6" class="t"/>
<text x="603.43" y="404.5" text-anchor="end" transform="rotate(-45 603.43 404.5)" class="xl">7500</text>
<path d="M641.15 395.3V397.6" class="t"/>
<text x="640.15" y="404.5" text-anchor="end" transform="rotate(-45 640.15 404.5)" class="xl">8000</text>
<path d="M677.86 395.3V397.6" class="t"/>
<text x="676.86" y="404.5" text-anchor="end" transform="rotate(-45 676.86 404.5)" class="xl">8500</text>
<text x="357" y="439" text-anchor="middle" textLength="113.6" lengthAdjust="spacingAndGlyphs" class="al">Streamers group</text>
<text x="13.8" y="217.4" text-anchor="middle" textLength="104.5" lengthAdjust="spacingAndGlyphs" transform="rotate(-90 13.8 217.4)" class="al">Autocorrelation</text>
</svg>
</body></html>
